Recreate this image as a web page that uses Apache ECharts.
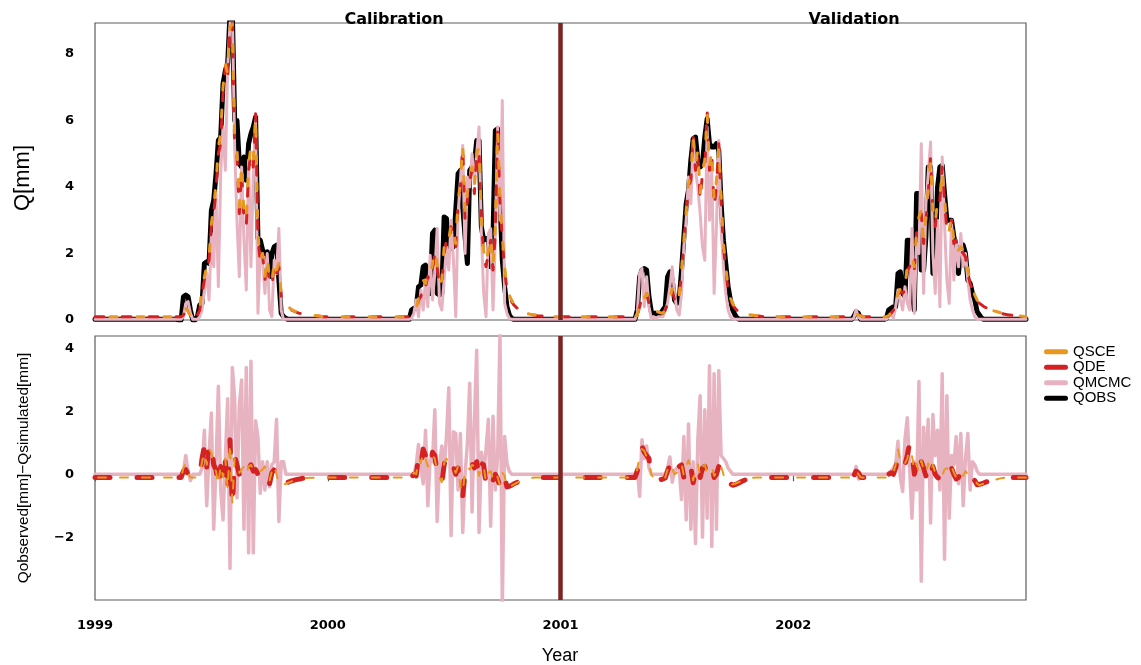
<!DOCTYPE html>
<html><head><meta charset="utf-8">
<script src="https://cdn.jsdelivr.net/npm/echarts@6/dist/echarts.min.js"></script>
<style>html,body{margin:0;padding:0;background:#fff}#c{width:1141px;height:665px}</style>
</head><body><div id="c"></div>
<script>
// ---- time layout: each flow season is sampled every 0.01 year starting at these dates
const seasonStart = [1999.36, 2000.36, 2001.32, 2002.25, 2002.40];
const step = 0.01;
const yearTicks = [1999, 2000, 2001, 2002];
const splitYear = 2001;
const qTicks = [0, 2, 4, 6, 8];
const resTicks = [-2, 0, 2, 4];

// ---- top panel: discharge Q [mm]
const qobs1999 = [0,0,0.7,0.75,0.7,0.3,0,0,0.1,0.45,0.5,1.7,1.75,1.7,3.3,3.6,4.4,5.4,5.5,7.1,7.5,7.7,9.2,9.3,6.0,6.0,4.7,4.6,4.9,4.2,5.3,5.6,5.8,6.1,2.45,2.4,2.1,2.0,2.05,1.3,2.0,2.2,2.25,1.2,0.2,0.1,0.05,0.02];
const qobs2000 = [0.3,0.35,0.35,1.0,1.05,1.6,1.65,0.9,0.8,2.6,2.7,0.8,0.75,0.8,3.1,3.05,2.2,2.15,2.2,3.3,4.4,4.5,3.4,2.5,1.7,4.5,4.6,4.7,5.4,5.4,2.8,2.4,2.45,2.45,1.6,2.5,5.7,5.75,3.6,1.8,1.0,0.4,0.15,0.05,0.02];
const qobs2001 = [0.02,0.3,1.3,1.5,1.55,1.5,0.7,0.25,0.2,0.2,0.15,0.2,0.3,0.4,1.3,1.45,1.2,0.6,0.5,0.6,1.5,2.5,3.5,3.9,4.8,5.45,5.5,4.8,4.6,4.7,5.5,6.05,5.3,5.2,5.2,5.3,5.1,3.5,2.4,1.7,1.0,0.6,0.3,0.15,0.05,0.02];
const qobs2002a = [0.02,0.1,0.25,0.2,0.02,0.02];
const qobs2002 = [0.05,0.3,0.35,0.4,0.4,1.4,1.45,0.8,0.7,2.4,2.4,1.0,0.3,3.8,3.8,1.5,1.5,2.5,4.6,4.6,1.4,2.0,4.0,4.6,4.65,3.8,3.0,3.0,3.0,2.5,2.2,1.4,2.2,2.25,2.0,1.2,1.1,0.8,0.6,0.25,0.15,0.05,0.02];

const qmcmc1999 = [0.02,0.02,0.1,0.5,0.55,0.2,0.02,0.02,0.02,0.1,0.3,0.9,1.4,0.6,2.6,1.6,3.8,1.0,4.4,5.8,4.5,7.6,8.9,9.3,5.2,3.0,1.3,4.6,2.4,0.9,4.8,1.6,4.4,6.0,0.2,2.0,1.8,0.8,2.0,0.3,0.1,1.8,1.4,2.75,0.3,0.02];
const qmcmc2000 = [0.05,0.2,0.6,0.1,0.9,0.3,1.2,0.4,1.95,0.6,1.4,2.75,0.5,0.3,1.2,2.2,1.5,3.0,1.8,0.1,3.2,4.2,5.25,2.0,4.3,4.0,5.0,4.1,5.0,5.8,2.6,0.8,0.1,2.6,2.75,0.3,2.5,5.8,3.0,6.6,0.5,0.2,0.05,0.02];
const qmcmc2001 = [0.02,0.2,1.4,1.55,0.4,1.3,0.4,0.05,0.1,0.05,0.1,0.1,0.1,0.3,0.5,1.0,1.6,0.8,0.3,0.15,0.8,2.2,3.0,4.3,3.5,5.4,4.5,4.0,3.2,2.2,1.8,5.8,3.0,4.5,0.8,2.8,5.4,2.8,1.6,0.8,0.3,0.1,0.05,0.02];
const qmcmc2002a = [0.02,0.05,0.3,0.1,0.02,0.02];
const qmcmc2002 = [0.02,0.1,0.2,0.05,0.4,0.9,0.6,0.3,1.0,0.5,0.3,2.75,0.2,2.4,2.0,5.3,0.8,3.5,4.4,5.35,2.0,0.8,3.0,0.4,4.9,2.9,1.2,0.5,3.0,1.2,2.4,1.6,2.6,1.6,2.0,1.2,0.6,0.3,0.1,0.02];

const qde1999 = [0.1,0.1,0.15,0.25,0.2,0.1,0.1,0.1,0.15,0.3,0.8,1.2,1.5,1.8,2.8,3.2,3.9,5.0,5.3,6.8,7.6,7.2,8.9,9.0,5.2,5.0,3.2,4.5,3.0,2.8,4.5,5.0,4.6,6.2,2.5,1.7,2.0,1.2,1.8,1.1,1.0,1.7,1.4,1.6,0.7,0.55,0.45,0.38,0.32,0.28,0.25,0.22,0.2,0.18,0.17];
const qde2000 = [0.15,0.2,0.3,0.6,0.7,1.1,1.0,1.3,1.2,1.5,2.0,1.6,1.0,1.1,2.0,2.4,2.3,2.8,2.5,2.2,3.5,4.0,5.2,3.0,3.6,4.2,4.5,3.8,5.0,5.1,3.0,2.0,1.6,2.0,2.4,1.5,2.6,5.8,3.5,2.4,1.5,0.9,0.7,0.55,0.45,0.38,0.32,0.27,0.23,0.2,0.18,0.16,0.15,0.14,0.13];
const qde2001 = [0.1,0.15,0.4,0.7,0.6,0.8,0.5,0.35,0.3,0.25,0.22,0.2,0.2,0.3,0.5,0.6,0.9,0.6,0.5,0.7,1.4,2.3,3.2,4.0,4.2,5.6,4.5,5.0,3.6,4.4,4.6,6.3,4.5,5.0,3.4,4.0,5.3,3.6,2.2,1.5,0.9,0.6,0.45,0.35,0.28,0.23,0.2,0.18,0.16,0.15,0.14,0.13,0.12,0.12,0.11];
const qde2002a = [0.1,0.1,0.14,0.17,0.13,0.1];
const qde2002 = [0.1,0.12,0.2,0.3,0.4,0.7,0.9,0.8,0.9,1.5,1.6,1.8,1.5,2.6,3.0,3.2,2.3,3.0,3.8,4.9,3.2,2.8,3.5,3.6,4.6,3.6,2.7,2.6,3.0,2.3,2.4,2.0,2.1,2.0,1.9,1.4,1.1,0.9,0.7,0.55,0.5,0.45,0.4,0.36,0.33,0.3,0.27,0.25,0.23,0.21,0.19,0.17,0.16,0.15,0.14];

const qsce1999 = [0.1,0.1,0.2,0.35,0.25,0.12,0.1,0.1,0.18,0.35,0.9,1.3,1.6,1.9,2.9,3.4,4.1,5.2,5.6,7.0,7.7,7.4,8.8,8.9,5.5,5.2,3.4,4.7,3.2,3.0,4.7,5.2,4.8,6.1,2.6,1.8,2.0,1.3,1.9,1.2,1.1,1.8,1.5,1.7,0.75,0.58,0.47,0.4,0.34,0.29,0.26,0.23,0.21,0.19,0.18];
const qsce2000 = [0.15,0.22,0.35,0.65,0.8,1.2,1.1,1.4,1.3,1.7,2.1,1.7,1.1,1.2,2.2,2.5,2.4,2.9,2.6,2.3,3.6,4.1,5.25,3.2,3.8,4.3,4.6,4.0,5.0,5.2,3.1,2.1,1.7,2.1,2.5,1.6,2.8,5.7,3.6,2.5,1.6,1.0,0.75,0.6,0.48,0.4,0.34,0.29,0.25,0.22,0.19,0.17,0.16,0.15,0.14];
const qsce2001 = [0.1,0.15,0.45,0.75,0.65,0.8,0.55,0.38,0.32,0.27,0.24,0.22,0.21,0.3,0.55,0.65,0.95,0.65,0.55,0.75,1.5,2.4,3.3,4.1,4.4,5.5,4.7,5.1,3.8,4.5,4.8,6.2,4.6,5.1,3.6,4.2,5.2,3.7,2.3,1.6,1.0,0.65,0.5,0.38,0.3,0.25,0.21,0.19,0.17,0.16,0.15,0.14,0.13,0.12,0.12];
const qsce2002a = [0.1,0.1,0.15,0.16,0.12,0.1];
const qsce2002 = [0.1,0.13,0.22,0.32,0.45,0.8,0.95,0.85,1.0,1.6,1.7,1.9,1.6,2.7,3.1,3.3,2.4,3.1,3.9,4.8,3.3,2.9,3.6,3.7,4.5,3.7,2.8,2.7,3.1,2.4,2.5,2.1,2.2,2.1,2.0,1.5,1.2,0.95,0.75,0.6,0.52,0.46,0.41,0.37,0.34,0.31,0.28,0.26,0.24,0.22,0.2,0.18,0.17,0.16,0.15];

// ---- bottom panel: Qobserved - Qsimulated [mm]
const rmcmc1999 = [0,0,0.1,0.6,0.1,-0.2,0,0,0,0,0.2,1.4,-1.0,0.6,1.95,-1.75,0.3,2.8,-0.5,-1.45,0.5,2.4,-3.0,3.4,2.4,-0.75,2.2,3.0,-1.75,3.4,-2.5,3.6,-2.5,1.7,1.2,-0.6,0.4,-0.5,0.4,-0.4,0.3,0.4,1.75,-1.5,0.4,0.4,0,0];
const rmcmc2000 = [0,0,0.3,0.95,0.2,-0.3,1.4,-1.0,0.5,0.4,2.05,-1.5,0.3,0.9,0.2,1.2,2.75,-1.95,1.35,1.3,-0.5,1.3,-1.85,0.0,1.0,2.9,-1.2,1.75,3.95,-1.85,0.7,0.0,0.8,1.75,-1.65,1.85,-0.5,0.6,4.5,-4.2,1.2,0.35,0.1,0];
const rmcmc2001 = [0,0.2,-0.7,1.1,0.5,0.9,0.2,0,0,0,0,0,0,0,0.2,0.55,-0.25,0.1,0.2,0.15,-0.8,1.2,-1.45,1.6,-1.75,0.4,-2.2,1.1,2.5,-2.0,2.05,-1.4,3.45,-2.3,3.2,-1.75,3.3,0.6,0.5,0.4,0.2,0.1,0];
const rmcmc2002a = [0,0,0.25,-0.15,0,0];
const rmcmc2002 = [0,0.05,0.1,0.2,0.3,1.05,-0.1,-0.55,1.1,1.8,0.2,-1.4,0.4,-0.5,2.95,-3.4,1.5,0.2,1.75,-1.55,1.9,0.6,1.4,-0.5,3.2,-2.7,2.5,-1.4,0.6,0.3,1.2,-0.3,1.3,-1.0,0.5,1.3,-0.5,0.4,0.3,0.1,0];

const rde1999 = [-0.1,-0.1,0.1,0.15,0.0,-0.1,-0.1,-0.1,-0.1,-0.05,0.5,0.9,0.2,1.0,0.95,0.3,0.15,-0.45,0.25,-0.2,0.4,-0.6,1.1,-1.05,0.6,0.3,0.0,0.1,0.2,-0.05,0.2,0.3,0.1,0.15,0.0,0.05,0.1,0.2,0.1,-0.3,0.05,0.15,-0.1,-0.35,-0.35,-0.3,-0.28,-0.25,-0.22,-0.2,-0.18,-0.16,-0.15,-0.13,-0.12];
const rde2000 = [-0.1,0.0,-0.05,0.6,0.3,0.8,0.6,0.3,0.2,0.7,0.6,0.0,-0.2,-0.3,0.3,0.6,0.3,0.2,0.25,0.0,0.2,-0.5,-0.7,0.1,0.2,0.1,0.35,0.2,0.4,-0.1,0.35,0.3,-0.3,0.0,0.05,-0.2,0.0,-0.15,-0.4,0.0,-0.1,-0.4,-0.38,-0.35,-0.3,-0.27,-0.23,-0.2,-0.17,-0.15,-0.13,-0.12,-0.11,-0.1,-0.1];
const rde2001 = [-0.1,0.1,0.5,0.9,0.7,0.6,0.5,-0.1,-0.15,-0.15,-0.17,-0.17,-0.15,-0.12,0.1,0.3,0.25,-0.05,0.0,0.25,0.3,-0.1,0.2,0.4,0.25,-0.27,0.1,0.3,-0.1,0.2,0.25,0.0,0.1,0.3,-0.1,0.0,0.25,0.3,-0.05,-0.25,-0.27,-0.3,-0.35,-0.33,-0.3,-0.26,-0.22,-0.19,-0.16,-0.14,-0.12,-0.11,-0.1,-0.1,-0.1];
const rde2002a = [-0.1,-0.05,0.1,0.05,-0.1,-0.1];
const rde2002 = [-0.1,0.0,0.05,0.0,0.2,0.55,0.5,0.2,0.3,0.6,1.0,0.7,0.0,0.3,0.0,0.4,0.2,-0.05,0.3,0.0,0.25,0.0,-0.1,-0.15,-0.1,0.1,0.15,0.0,0.2,0.0,-0.15,-0.1,0.05,-0.1,0.05,-0.05,-0.1,-0.15,-0.2,-0.33,-0.32,-0.3,-0.27,-0.24,-0.22,-0.2,-0.18,-0.16,-0.14,-0.13,-0.12,-0.11,-0.1,-0.1,-0.1];

const rsce1999 = [-0.1,-0.1,0.2,0.35,0.05,-0.1,-0.1,-0.1,-0.1,0.0,0.4,0.7,0.3,0.8,0.7,0.2,0.1,-0.35,0.3,-0.1,0.5,-0.5,1.0,-0.9,0.5,0.25,0.05,0.15,0.25,0.0,0.25,0.3,0.15,0.2,0.05,0.1,0.15,0.25,0.1,-0.2,0.1,0.3,0.0,-0.3,-0.4,-0.33,-0.3,-0.27,-0.24,-0.21,-0.19,-0.17,-0.15,-0.13,-0.12];
const rsce2000 = [-0.1,0.05,0.0,0.5,0.35,0.7,0.5,0.25,0.3,0.6,0.5,0.1,-0.1,-0.25,0.35,0.5,0.35,0.25,0.2,0.05,0.25,-0.4,-0.6,0.15,0.25,0.15,0.3,0.25,0.35,-0.05,0.3,0.25,-0.25,0.05,0.1,-0.15,0.05,-0.1,-0.35,0.05,-0.05,-0.45,-0.4,-0.36,-0.32,-0.28,-0.24,-0.21,-0.18,-0.16,-0.14,-0.12,-0.11,-0.1,-0.1];
const rsce2001 = [-0.1,0.15,0.6,0.8,0.75,0.55,0.4,0.0,-0.12,-0.14,-0.15,-0.15,-0.14,-0.1,0.15,0.35,0.2,0.0,0.05,0.3,0.35,-0.05,0.25,0.45,0.2,-0.2,0.15,0.35,-0.05,0.25,0.3,0.05,0.15,0.25,-0.05,0.05,0.3,0.25,0.0,-0.2,-0.3,-0.33,-0.32,-0.3,-0.27,-0.24,-0.21,-0.18,-0.15,-0.13,-0.12,-0.11,-0.1,-0.1,-0.1];
const rsce2002a = [-0.1,0,0.12,0,-0.1,-0.1];
const rsce2002 = [-0.1,0.05,0.1,0.05,0.3,0.8,0.4,0.25,0.35,0.5,0.8,0.6,0.1,0.35,0.05,0.45,0.15,0.0,0.35,0.05,0.3,0.05,-0.05,-0.1,-0.05,0.15,0.2,0.05,0.25,0.05,-0.1,-0.05,0.1,-0.05,0.1,0.0,-0.05,-0.1,-0.15,-0.3,-0.35,-0.32,-0.29,-0.26,-0.23,-0.21,-0.19,-0.17,-0.15,-0.13,-0.12,-0.11,-0.1,-0.1,-0.1];

// ---- build [year, value] series from the season arrays and each series' low-flow base value
function build(seasons, base) {
  const pts = [[1999, base]];
  seasons.forEach((vals, k) => {
    const s = seasonStart[k];
    pts.push([s - step, base]);
    vals.forEach((v, i) => pts.push([+(s + i * step).toFixed(4), v]));
    const end = s + (vals.length - 1) * step;
    const limit = k + 1 < seasonStart.length ? seasonStart[k + 1] - 2 * step : 2003;
    pts.push([Math.min(end + 0.08, limit), base]);
  });
  if (pts[pts.length - 1][0] < 2003) pts.push([2003, base]);
  return pts;
}

const C_OBS = '#000000', C_MCMC = '#E8B3C1', C_DE = '#D42222', C_SCE = '#E8981F', C_SPLIT = '#7A2424';
const tickFont = {fontFamily: 'DejaVu Sans', fontWeight: 'bold', fontSize: 13, color: '#000'};
const minus = v => (v < 0 ? '\u2212' + Math.abs(v) : String(v));

const chart = echarts.init(document.getElementById('c'), null, {renderer: 'canvas'});
const splitSeries = (idx) => ({
  type: 'line', xAxisIndex: idx, yAxisIndex: idx, data: [], silent: true,
  markLine: {silent: true, symbol: ['none', 'none'], label: {show: false},
    lineStyle: {color: C_SPLIT, width: 4.5, type: 'solid'}, data: [{xAxis: splitYear}]}
});
const base = {type: 'line', showSymbol: false, symbol: 'none', animation: false, clip: true};

chart.setOption({
  animation: false,
  backgroundColor: '#fff',
  grid: [
    {left: 95, top: 23, width: 931, height: 297, show: true, borderColor: '#5c5c5c', borderWidth: 1.2, backgroundColor: 'transparent'},
    {left: 95, top: 336, width: 931, height: 264, show: true, borderColor: '#5c5c5c', borderWidth: 1.2, backgroundColor: 'transparent'}
  ],
  xAxis: [
    {gridIndex: 0, type: 'value', min: 1999, max: 2003, axisLine: {show: false}, axisTick: {show: false}, axisLabel: {show: false}, splitLine: {show: false}},
    {gridIndex: 1, type: 'value', min: 1999, max: 2003, axisLine: {show: false},
      axisTick: {show: true, length: 7, customValues: yearTicks, lineStyle: {color: '#5c5c5c', width: 1.2}},
      axisLabel: Object.assign({customValues: yearTicks, margin: 19, formatter: v => String(v)}, tickFont),
      splitLine: {show: false}}
  ],
  yAxis: [
    {gridIndex: 0, type: 'value', min: 0, max: 8.93, axisLine: {show: false}, axisTick: {show: false},
      axisLabel: Object.assign({customValues: qTicks, margin: 21, formatter: minus}, tickFont), splitLine: {show: false}},
    {gridIndex: 1, type: 'value', min: -4, max: 4.4, axisLine: {show: false}, axisTick: {show: false},
      axisLabel: Object.assign({customValues: resTicks, margin: 21, formatter: minus}, tickFont), splitLine: {show: false}}
  ],
  legend: {
    orient: 'vertical', left: 1044, top: 344, padding: 0, itemGap: 0, itemWidth: 24, itemHeight: 5,
    icon: 'path://M2.5,0 L21.5,0 A2.5,2.5 0 0 1 21.5,5 L2.5,5 A2.5,2.5 0 0 1 2.5,0 Z',
    selectedMode: false,
    textStyle: {fontFamily: 'Liberation Sans', fontSize: 15, color: '#000', lineHeight: 15.5},
    data: ['QSCE', 'QDE', 'QMCMC', 'QOBS']
  },
  graphic: [
    {type: 'text', x: 394, y: 19.5, style: {text: 'Calibration', font: 'bold 16px "DejaVu Sans"', fill: '#000', align: 'center', verticalAlign: 'middle'}},
    {type: 'text', x: 854, y: 19.5, style: {text: 'Validation', font: 'bold 16px "DejaVu Sans"', fill: '#000', align: 'center', verticalAlign: 'middle'}},
    {type: 'text', x: 560, y: 656, style: {text: 'Year', font: '18px "Liberation Sans"', fill: '#000', align: 'center', verticalAlign: 'middle'}},
    {type: 'text', x: 23, y: 178, rotation: Math.PI / 2, style: {text: 'Q[mm]', font: '22px "Liberation Sans"', fill: '#000', align: 'center', verticalAlign: 'middle'}},
    {type: 'text', x: 24, y: 468, rotation: Math.PI / 2, style: {text: 'Qobserved[mm]\u2212Qsimulated[mm]', font: '15.4px "Liberation Sans"', fill: '#000', align: 'center', verticalAlign: 'middle'}}
  ],
  series: [
    Object.assign({}, base, {name: 'QOBS', xAxisIndex: 0, yAxisIndex: 0, color: C_OBS,
      lineStyle: {color: C_OBS, width: 5, cap: 'round', join: 'round'},
      data: build([qobs1999, qobs2000, qobs2001, qobs2002a, qobs2002], 0.02)}),
    Object.assign({}, base, {name: 'QMCMC', xAxisIndex: 0, yAxisIndex: 0, color: C_MCMC,
      lineStyle: {color: C_MCMC, width: 3, cap: 'round', join: 'round'},
      data: build([qmcmc1999, qmcmc2000, qmcmc2001, qmcmc2002a, qmcmc2002], 0.02)}),
    Object.assign({}, base, {name: 'QDE', xAxisIndex: 0, yAxisIndex: 0, color: C_DE,
      lineStyle: {color: C_DE, width: 3, type: [9, 18], cap: 'round', join: 'round'},
      data: build([qde1999, qde2000, qde2001, qde2002a, qde2002], 0.1)}),
    Object.assign({}, base, {name: 'QSCE', xAxisIndex: 0, yAxisIndex: 0, color: C_SCE,
      lineStyle: {color: C_SCE, width: 3, type: [7, 20], dashOffset: 12, cap: 'round', join: 'round'},
      data: build([qsce1999, qsce2000, qsce2001, qsce2002a, qsce2002], 0.1)}),
    splitSeries(0),
    Object.assign({}, base, {name: 'QMCMC', xAxisIndex: 1, yAxisIndex: 1, color: C_MCMC,
      lineStyle: {color: C_MCMC, width: 3.5, cap: 'round', join: 'round'},
      data: build([rmcmc1999, rmcmc2000, rmcmc2001, rmcmc2002a, rmcmc2002], 0)}),
    Object.assign({}, base, {name: 'QDE', xAxisIndex: 1, yAxisIndex: 1, color: C_DE,
      lineStyle: {color: C_DE, width: 5, type: [15, 27], cap: 'round', join: 'round'},
      data: build([rde1999, rde2000, rde2001, rde2002a, rde2002], -0.1)}),
    Object.assign({}, base, {name: 'QSCE', xAxisIndex: 1, yAxisIndex: 1, color: C_SCE,
      lineStyle: {color: C_SCE, width: 2, type: [8, 14], dashOffset: 19, cap: 'round', join: 'round'},
      data: build([rsce1999, rsce2000, rsce2001, rsce2002a, rsce2002], -0.1)}),
    splitSeries(1)
  ]
});
</script></body></html>
